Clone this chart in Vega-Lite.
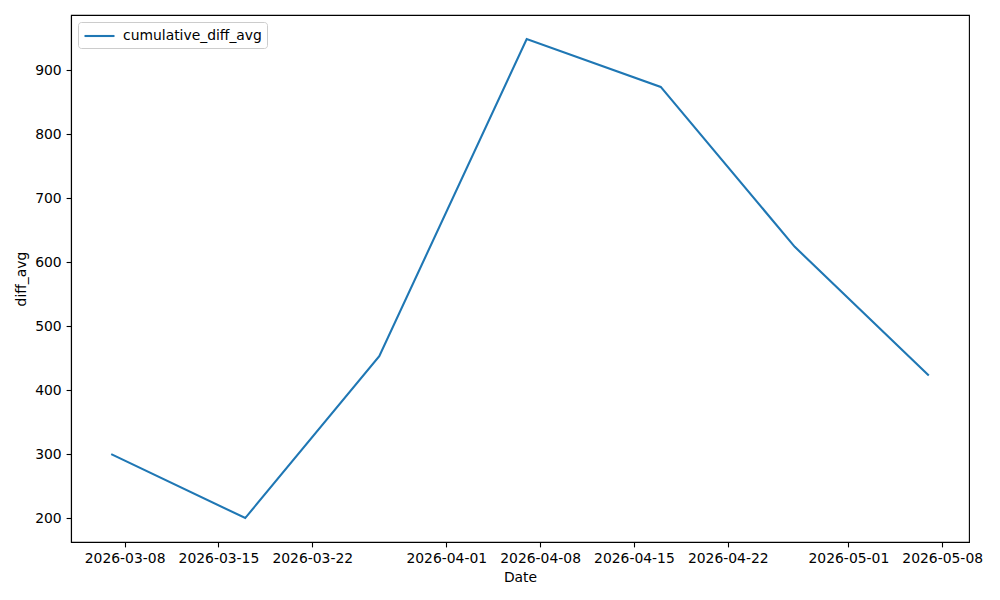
{
  "$schema": "https://vega.github.io/schema/vega-lite/v6.json",
  "width": 898,
  "height": 527,
  "autosize": {"type": "none"},
  "padding": {"left": 71, "top": 15, "right": 31, "bottom": 58},
  "background": "white",
  "config": {
    "view": {"stroke": "black", "strokeWidth": 1.1},
    "font": "DejaVu Sans",
    "axis": {
      "grid": false,
      "domainColor": "black",
      "domainWidth": 1.1,
      "tickColor": "black",
      "tickWidth": 1.1,
      "tickSize": 4.9,
      "labelColor": "black",
      "labelFont": "DejaVu Sans",
      "labelFontSize": 13.9,
      "labelPadding": 4.9,
      "titleFont": "DejaVu Sans",
      "titleFontSize": 13.9,
      "titleFontWeight": "normal",
      "titleColor": "black"
    }
  },
  "data": {
    "values": [
      {"date": "2026-03-07", "value": 300, "series": "cumulative_diff_avg"},
      {"date": "2026-03-17", "value": 200, "series": "cumulative_diff_avg"},
      {"date": "2026-03-27", "value": 453, "series": "cumulative_diff_avg"},
      {"date": "2026-04-07", "value": 949, "series": "cumulative_diff_avg"},
      {"date": "2026-04-17", "value": 874, "series": "cumulative_diff_avg"},
      {"date": "2026-04-27", "value": 624, "series": "cumulative_diff_avg"},
      {"date": "2026-05-07", "value": 423, "series": "cumulative_diff_avg"}
    ]
  },
  "mark": {"type": "line", "strokeWidth": 2.1, "clip": true},
  "encoding": {
    "x": {
      "field": "date",
      "type": "temporal",
      "title": "Date",
      "scale": {
        "type": "utc",
        "nice": false,
        "domain": [
          {"year": 2026, "month": 3, "date": 4, "utc": true},
          {"year": 2026, "month": 5, "date": 10, "utc": true}
        ]
      },
      "axis": {
        "format": "%Y-%m-%d",
        "labelAngle": 0,
        "labelFlush": false,
        "labelOverlap": false,
        "titlePadding": 5,
        "values": [
          {"year": 2026, "month": 3, "date": 8, "utc": true},
          {"year": 2026, "month": 3, "date": 15, "utc": true},
          {"year": 2026, "month": 3, "date": 22, "utc": true},
          {"year": 2026, "month": 4, "date": 1, "utc": true},
          {"year": 2026, "month": 4, "date": 8, "utc": true},
          {"year": 2026, "month": 4, "date": 15, "utc": true},
          {"year": 2026, "month": 4, "date": 22, "utc": true},
          {"year": 2026, "month": 5, "date": 1, "utc": true},
          {"year": 2026, "month": 5, "date": 8, "utc": true}
        ]
      }
    },
    "y": {
      "field": "value",
      "type": "quantitative",
      "title": "diff_avg",
      "scale": {"domain": [162.55, 986.45], "nice": false, "zero": false},
      "axis": {
        "values": [200, 300, 400, 500, 600, 700, 800, 900],
        "labelFlush": false,
        "titlePadding": 6
      }
    },
    "color": {
      "field": "series",
      "type": "nominal",
      "scale": {"range": ["#1f77b4"]},
      "legend": {
        "title": null,
        "orient": "top-left",
        "offset": 7,
        "padding": 5,
        "fillColor": "white",
        "strokeColor": "#cccccc",
        "cornerRadius": 3,
        "symbolType": "M-1,0H3",
        "symbolSize": 225,
        "symbolStrokeWidth": 2.1,
        "labelFont": "DejaVu Sans",
        "labelFontSize": 13.9,
        "labelColor": "black",
        "labelOffset": 22
      }
    }
  }
}
